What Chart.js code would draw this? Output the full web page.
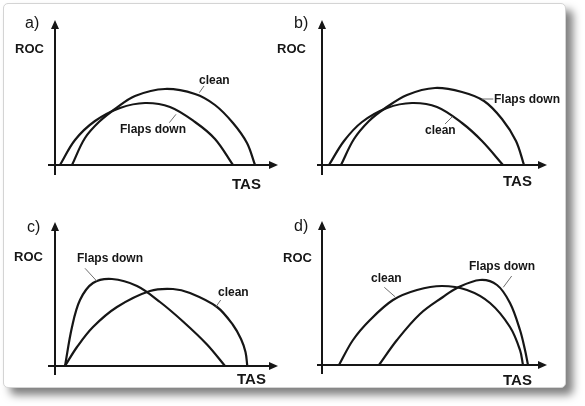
<!DOCTYPE html>
<html>
<head>
<meta charset="utf-8">
<script src="https://cdn.jsdelivr.net/npm/chart.js@4.4.1/dist/chart.umd.min.js"></script>
<style>
    html, body { margin: 0; padding: 0; background: #fff; }
    #page { position: relative; width: 585px; height: 406px; overflow: hidden; }
    #card {
        position: absolute; left: 3px; top: 3px; width: 561px; height: 383px;
        background: #fff; border: 1px solid #d4d4d4; border-radius: 5px;
        box-shadow: 7px 7px 9px rgba(0, 0, 0, 0.5);
    }
    canvas { position: absolute; }
</style>
</head>
<body>
<div id="page">
    <div id="card"></div>
    <canvas id="panelA" width="292" height="200" style="left:0;top:0"></canvas>
    <canvas id="panelB" width="315" height="200" style="left:270px;top:0"></canvas>
    <canvas id="panelC" width="292" height="206" style="left:0;top:200px"></canvas>
    <canvas id="panelD" width="315" height="206" style="left:270px;top:200px"></canvas>
</div>
<script>
// values, TAS along x and ROC along y (arbitrary units, origin at the axes)

// a) clean envelope outside the flaps down one
const aCleanTas = [17, 30, 45, 60, 80, 110, 140, 160, 178, 192, 200]
const aCleanRoc = [0, 27, 44, 56, 69, 76, 71, 60, 42, 22, 0]
const aFlapsTas = [5, 20, 40, 65, 90, 115, 140, 160, 178]
const aFlapsRoc = [0, 25, 44, 57, 62, 58, 43, 26, 0]

// b) flaps down envelope outside the clean one
const bCleanTas = [7, 22, 40, 65, 90, 115, 140, 160, 181]
const bCleanRoc = [0, 24, 43, 57, 62, 58, 42, 24, 0]
const bFlapsTas = [19, 32, 47, 62, 85, 113, 140, 162, 180, 194, 202]
const bFlapsRoc = [0, 26, 44, 56, 70, 77, 73, 64, 46, 24, 0]

// c) flaps down peaks early, clean later and at higher speed
const cCleanTas = [10, 22, 38, 62, 95, 118, 135, 162, 178, 186, 190.5, 192.3]
const cCleanRoc = [0, 19, 39, 59, 75, 77, 73, 59, 41, 27, 14, 0]
const cFlapsTas = [10, 17, 25, 38, 57, 82, 105, 128, 152, 170]
const cFlapsRoc = [0, 39, 66, 83, 87, 80, 64, 44.5, 21.5, 0]

// d) flaps down starts late and peaks at high speed
const dCleanTas = [17, 31, 48, 71, 95, 120, 145, 168, 188, 198, 201]
const dCleanRoc = [0, 25, 45, 65, 75, 79, 75, 62, 38, 15, 0]
const dFlapsTas = [57, 75, 98, 121, 135, 158, 175, 188, 198, 203, 206]
const dFlapsRoc = [0, 25, 51, 68, 77, 85, 80, 62, 35, 15, 0]

const ink = '#161616'
const leaderInk = '#707070'

function zip(xs, ys){
    return xs.map((x, i) => ({x, y: ys[i]}))
}

const panels = [
    {
        elementId: 'panelA', tag: 'a)',
        padding: {left: 48, top: 20, right: 14, bottom: 25},
        xRange: [-7, 223], yRange: [-10, 145],
        series: [zip(aCleanTas, aCleanRoc), zip(aFlapsTas, aFlapsRoc)],
        tagAt: [-30, 141], rocAt: [-40, 112], tasAt: [177, -24],
        notes: [
            {text: 'clean', at: [144, 81], leader: [[144.3, 72.3], [149, 79]]},
            {text: 'Flaps down', at: [65, 32], leader: [[114.3, 42.3], [121, 50.7]]}
        ]
    },
    {
        elementId: 'panelB', tag: 'b)',
        padding: {left: 47, top: 20, right: 38, bottom: 25},
        xRange: [-5, 225], yRange: [-10, 145],
        series: [zip(bCleanTas, bCleanRoc), zip(bFlapsTas, bFlapsRoc)],
        tagAt: [-28, 141], rocAt: [-45, 112], tasAt: [181, -21],
        notes: [
            {text: 'Flaps down', at: [172, 62], leader: [[159.7, 66], [171.3, 66]]},
            {text: 'clean', at: [103, 31], leader: [[123, 41], [130.3, 48.3]]}
        ]
    },
    {
        elementId: 'panelC', tag: 'c)',
        padding: {left: 48, top: 22, right: 14, bottom: 31},
        xRange: [-7, 223], yRange: [-9, 144],
        series: [zip(cCleanTas, cCleanRoc), zip(cFlapsTas, cFlapsRoc)],
        tagAt: [-28, 138], rocAt: [-41, 105], tasAt: [182, -18],
        notes: [
            {text: 'Flaps down', at: [22, 104], leader: [[30, 97.7], [41.7, 85]]},
            {text: 'clean', at: [163, 70], leader: [[161, 59.3], [165.7, 66]]}
        ]
    },
    {
        elementId: 'panelD', tag: 'd)',
        padding: {left: 47, top: 21, right: 38, bottom: 32},
        xRange: [-5, 225], yRange: [-9, 144],
        series: [zip(dCleanTas, dCleanRoc), zip(dFlapsTas, dFlapsRoc)],
        tagAt: [-28, 138], rocAt: [-39, 103], tasAt: [181, -20],
        notes: [
            {text: 'clean', at: [49, 83], leader: [[62.3, 77.7], [73, 68.3]]},
            {text: 'Flaps down', at: [147, 95], leader: [[181.3, 77.7], [189.7, 89]]}
        ]
    }
]

// axes with arrow heads, crossing at the origin, plus the hand placed texts
const sketchAxes = {
    id: 'sketchAxes',
    beforeDatasetsDraw(chart, args, opts){
        const {ctx, chartArea} = chart
        const ox = chart.scales.x.getPixelForValue(0)
        const oy = chart.scales.y.getPixelForValue(0)
        const head = 9
        const half = 4

        ctx.save()
        ctx.strokeStyle = ink
        ctx.fillStyle = ink
        ctx.lineWidth = 2
        ctx.beginPath()
        ctx.moveTo(ox, chartArea.bottom)
        ctx.lineTo(ox, chartArea.top + head - 1)
        ctx.moveTo(chartArea.left, oy)
        ctx.lineTo(chartArea.right - head + 1, oy)
        ctx.stroke()

        ctx.beginPath()
        ctx.moveTo(ox, chartArea.top)
        ctx.lineTo(ox - half, chartArea.top + head)
        ctx.lineTo(ox + half, chartArea.top + head)
        ctx.closePath()
        ctx.moveTo(chartArea.right, oy)
        ctx.lineTo(chartArea.right - head, oy - half)
        ctx.lineTo(chartArea.right - head, oy + half)
        ctx.closePath()
        ctx.fill()
        ctx.restore()
    },
    afterDatasetsDraw(chart, args, opts){
        const {ctx} = chart
        const px = v => chart.scales.x.getPixelForValue(v)
        const py = v => chart.scales.y.getPixelForValue(v)
        const panel = opts.panel

        ctx.save()
        ctx.fillStyle = ink
        ctx.textAlign = 'left'

        ctx.textBaseline = 'middle'
        ctx.font = '16px "Liberation Sans", Arial, sans-serif'
        ctx.fillText(panel.tag, px(panel.tagAt[0]), py(panel.tagAt[1]))

        ctx.textBaseline = 'alphabetic'
        ctx.font = 'bold 13px "Liberation Sans", Arial, sans-serif'
        ctx.fillText('ROC', px(panel.rocAt[0]), py(panel.rocAt[1]))

        ctx.font = 'bold 15px "Liberation Sans", Arial, sans-serif'
        ctx.fillText('TAS', px(panel.tasAt[0]), py(panel.tasAt[1]))

        ctx.font = 'bold 12px "Liberation Sans", Arial, sans-serif'
        panel.notes.forEach(note => {
            ctx.fillStyle = ink
            ctx.fillText(note.text, px(note.at[0]), py(note.at[1]))
            ctx.strokeStyle = leaderInk
            ctx.lineWidth = 1
            ctx.beginPath()
            ctx.moveTo(px(note.leader[0][0]), py(note.leader[0][1]))
            ctx.lineTo(px(note.leader[1][0]), py(note.leader[1][1]))
            ctx.stroke()
        })
        ctx.restore()
    }
}

panels.forEach(panel => {
    const canvas = document.getElementById(panel.elementId)
    new Chart(canvas, {
        type: 'line',
        data: {
            datasets: panel.series.map(points => ({
                data: points,
                borderColor: ink,
                borderWidth: 2.2,
                pointRadius: 0,
                fill: false,
                tension: 0.35
            }))
        },
        options: {
            responsive: false,
            animation: false,
            events: [],
            layout: {padding: panel.padding},
            plugins: {
                legend: {display: false},
                tooltip: {enabled: false},
                sketchAxes: {panel}
            },
            scales: {
                x: {type: 'linear', min: panel.xRange[0], max: panel.xRange[1], display: false},
                y: {type: 'linear', min: panel.yRange[0], max: panel.yRange[1], display: false}
            }
        },
        plugins: [sketchAxes]
    })
})
</script>
</body>
</html>
